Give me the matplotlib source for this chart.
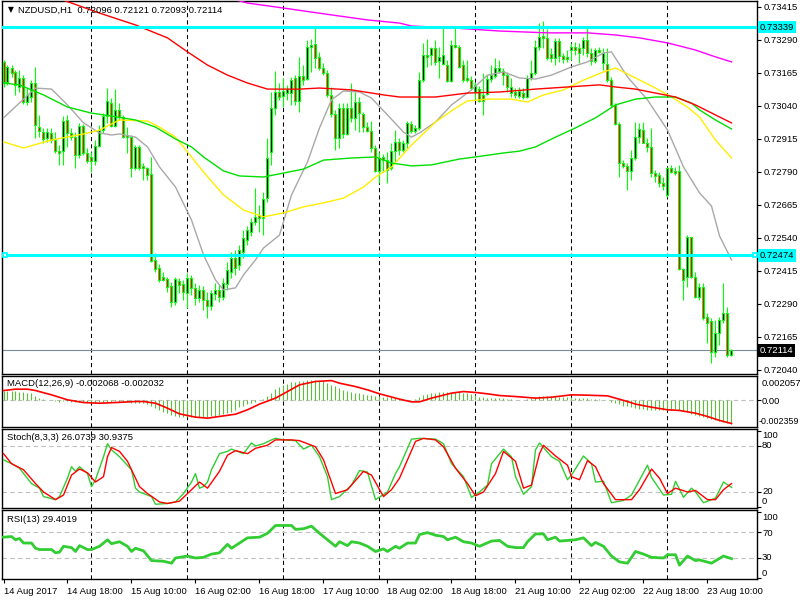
import numpy as np
import matplotlib
matplotlib.use('Agg')
import matplotlib.pyplot as plt
from matplotlib.transforms import blended_transform_factory as blend

plt.rcParams['font.family'] = ['Liberation Sans', 'DejaVu Sans']
FS = 6.8

# ---------------- data ----------------
symbol = 'NZDUSD,H1'
last_ohlc = [0.72096, 0.72121, 0.72093, 0.72114]
first_bar = 2          # bar index 0 = 14 Aug 2017 00:00 (H1 bars, weekend skipped)

# prices in points (1e-5)
open_pts = [73207, 73131, 73184, 73169, 73112, 73146, 73055, 73074, 73127, 72960,
            72941, 72919, 72938, 72911, 72869, 72869, 72987, 72938, 72922, 72854,
            72964, 72862, 72847, 72832, 72888, 72949, 73002, 73051, 72964, 73025,
            72998, 72930, 72922, 72805, 72885, 72813, 72805, 72782, 72457, 72426,
            72392, 72385, 72358, 72298, 72377, 72366, 72332, 72388, 72351, 72313,
            72343, 72305, 72282, 72328, 72343, 72316, 72366, 72411, 72464, 72438,
            72487, 72532, 72563, 72601, 72627, 72616, 72691, 72866, 73032, 73093,
            73078, 73089, 73089, 73146, 73059, 73154, 73142, 73263, 73275, 73226,
            73184, 73165, 73082, 73010, 72919, 73032, 72934, 73032, 72995, 73055,
            73010, 72960, 72945, 72881, 72794, 72847, 72835, 72805, 72869, 72904,
            72873, 72900, 72972, 72945, 72957, 73138, 73233, 73233, 73260, 73210,
            73199, 73195, 73135, 73271, 73263, 73195, 73146, 73138, 73093, 73104,
            73082, 73085, 73142, 73154, 73172, 73172, 73157, 73089, 73093, 73078,
            73089, 73074, 73146, 73165, 73263, 73305, 73298, 73237, 73222, 73286,
            73229, 73226, 73252, 73263, 73260, 73260, 73290, 73241, 73210, 73252,
            73203, 73199, 73138, 73044, 72972, 72824, 72813, 72794, 72843, 72922,
            72949, 72900, 72885, 72786, 72779, 72748, 72703, 72805, 72794, 72794,
            72423, 72392, 72544, 72392, 72316, 72354, 72241, 72225, 72108, 72180,
            72229, 72256, 72096]
high_pts = [73214, 73195, 73195, 73176, 73176, 73157, 73108, 73138, 73188, 73006,
            72957, 72957, 72957, 72941, 72892, 73002, 73006, 72957, 72941, 72976,
            72972, 72881, 72866, 72911, 72968, 73013, 73108, 73070, 73104, 73051,
            73006, 72960, 72930, 72892, 72892, 72824, 72809, 72847, 72483, 72441,
            72411, 72392, 72373, 72392, 72388, 72381, 72407, 72400, 72369, 72362,
            72358, 72335, 72343, 72369, 72362, 72388, 72449, 72487, 72495, 72513,
            72570, 72585, 72616, 72729, 72665, 72714, 72919, 73093, 73172, 73127,
            73146, 73120, 73150, 73157, 73226, 73195, 73290, 73294, 73339, 73245,
            73203, 73176, 73112, 73025, 73051, 73051, 73051, 73127, 73093, 73074,
            73017, 72979, 72983, 72892, 72866, 72858, 72866, 72900, 72949, 72919,
            72911, 72983, 72983, 72968, 73169, 73279, 73294, 73263, 73290, 73263,
            73339, 73214, 73290, 73339, 73271, 73214, 73214, 73154, 73131, 73116,
            73165, 73157, 73195, 73222, 73214, 73184, 73169, 73146, 73108, 73112,
            73108, 73157, 73214, 73290, 73354, 73362, 73332, 73260, 73298, 73298,
            73241, 73252, 73279, 73282, 73279, 73301, 73339, 73260, 73260, 73263,
            73260, 73260, 73150, 73051, 72979, 72835, 72824, 72873, 72979, 72976,
            72979, 72919, 72957, 72798, 72790, 72771, 72809, 72817, 72809, 72817,
            72426, 72551, 72544, 72411, 72369, 72369, 72256, 72237, 72229, 72241,
            72369, 72279, 72121]
low_pts = [73112, 73120, 73150, 73082, 73093, 73048, 73044, 73055, 72919, 72922,
           72900, 72904, 72900, 72862, 72817, 72817, 72885, 72911, 72805, 72843,
           72854, 72824, 72790, 72817, 72885, 72938, 72976, 72960, 72960, 72987,
           72919, 72862, 72771, 72798, 72798, 72760, 72760, 72449, 72411, 72373,
           72377, 72335, 72279, 72286, 72332, 72305, 72275, 72324, 72286, 72298,
           72267, 72237, 72267, 72305, 72298, 72305, 72343, 72388, 72400, 72419,
           72464, 72513, 72548, 72589, 72563, 72551, 72676, 72817, 73006, 73063,
           73036, 73063, 73044, 73044, 73017, 73120, 73138, 73169, 73184, 73176,
           73157, 73074, 72998, 72873, 72881, 72919, 72930, 72979, 72949, 72941,
           72941, 72941, 72866, 72790, 72748, 72790, 72748, 72798, 72824, 72854,
           72866, 72881, 72938, 72938, 72949, 73131, 73188, 73195, 73195, 73146,
           73195, 73131, 73131, 73260, 73184, 73131, 73131, 73101, 73063, 73055,
           73006, 73082, 73131, 73146, 73165, 73120, 73093, 73074, 73070, 73070,
           73066, 73070, 73138, 73157, 73252, 73260, 73214, 73207, 73195, 73207,
           73203, 73207, 73214, 73233, 73203, 73233, 73226, 73195, 73203, 73241,
           73176, 73131, 73036, 72968, 72771, 72805, 72722, 72760, 72835, 72900,
           72900, 72866, 72771, 72752, 72733, 72722, 72695, 72786, 72779, 72419,
           72305, 72354, 72388, 72313, 72305, 72229, 72142, 72066, 72089, 72135,
           72218, 72089, 72093]
close_pts = [73131, 73188, 73165, 73120, 73146, 73055, 73082, 73127, 72968, 72945,
             72915, 72941, 72911, 72869, 72862, 72983, 72938, 72922, 72854, 72964,
             72862, 72832, 72832, 72888, 72949, 73002, 73059, 72964, 73025, 72998,
             72922, 72922, 72805, 72885, 72805, 72805, 72779, 72453, 72423, 72381,
             72381, 72354, 72298, 72385, 72362, 72335, 72388, 72351, 72313, 72343,
             72305, 72282, 72332, 72343, 72316, 72369, 72419, 72464, 72426, 72495,
             72540, 72570, 72601, 72620, 72616, 72688, 72843, 73032, 73093, 73074,
             73097, 73104, 73138, 73059, 73154, 73138, 73263, 73271, 73222, 73184,
             73165, 73082, 73010, 72919, 73032, 72934, 73032, 72995, 73055, 73013,
             72960, 72945, 72881, 72794, 72843, 72835, 72798, 72869, 72904, 72873,
             72900, 72976, 72945, 72957, 73138, 73233, 73226, 73260, 73207, 73226,
             73233, 73135, 73271, 73263, 73188, 73138, 73138, 73108, 73120, 73059,
             73059, 73142, 73157, 73184, 73184, 73157, 73112, 73112, 73082, 73097,
             73074, 73146, 73165, 73263, 73301, 73298, 73222, 73222, 73286, 73229,
             73218, 73218, 73263, 73252, 73241, 73290, 73241, 73210, 73252, 73245,
             73241, 73138, 73044, 72972, 72824, 72813, 72794, 72843, 72922, 72953,
             72900, 72885, 72786, 72775, 72748, 72737, 72805, 72790, 72786, 72423,
             72381, 72544, 72392, 72316, 72354, 72237, 72218, 72108, 72180, 72229,
             72256, 72097, 72114]

# moving averages (bar index, price in points)
gray_idx = [2, 10, 14, 18, 22, 26, 29, 31, 35, 38, 41, 45, 49, 52, 55, 57, 60, 62, 65, 67,
            71, 74, 78, 81, 84, 87, 91, 94, 98, 102, 104, 106, 110, 114, 119, 123, 127, 131, 135, 139,
            144, 148, 152, 154, 158, 163, 168, 172, 176, 179, 181, 184]
gray_pts = [72995, 73108, 73104, 73044, 72976, 72938, 72930, 72934, 72922, 72885,
            72809, 72733, 72608, 72476, 72381, 72343, 72351, 72400, 72457, 72502,
            72551, 72703, 72828, 72957, 73063, 73097, 73093, 73070, 73006, 72941,
            72922, 72938, 72979, 73044, 73101, 73157, 73169, 73146, 73142, 73157,
            73188, 73207, 73241, 73245, 73150, 73063, 72949, 72809, 72711, 72661,
            72548, 72457]
yellow_idx = [2, 7, 14, 22, 26, 31, 38, 41, 45, 49, 52, 57, 62, 67, 72, 77, 82, 87, 92, 95,
              99, 104, 110, 115, 118, 123, 129, 133, 137, 142, 147, 152, 155, 160, 165, 169, 173, 176, 180, 184]
yellow_pts = [72904, 72881, 72911, 72934, 72949, 72987, 72983, 72960, 72922, 72847,
              72790, 72703, 72646, 72620, 72635, 72658, 72673, 72691, 72733, 72771,
              72809, 72892, 72979, 73032, 73059, 73066, 73066, 73055, 73082, 73101,
              73138, 73169, 73184, 73146, 73108, 73074, 73036, 72998, 72911, 72843]
green_idx = [2, 6, 12, 18, 24, 29, 35, 40, 45, 49, 52, 57, 61, 67, 72, 77, 82, 89, 95, 99,
             104, 109, 116, 120, 127, 131, 135, 140, 145, 150, 155, 160, 165, 170, 174, 176, 180, 184]
green_pts = [73127, 73120, 73082, 73036, 73013, 73002, 72987, 72960, 72915, 72885,
             72847, 72794, 72775, 72771, 72786, 72801, 72835, 72843, 72847, 72824,
             72813, 72817, 72839, 72847, 72862, 72869, 72885, 72922, 72957, 72995,
             73044, 73066, 73074, 73074, 73051, 73025, 72987, 72953]
red_idx = [2, 11, 19, 26, 35, 43, 48, 53, 58, 63, 68, 76, 81, 89, 97, 101, 110, 118, 126, 135,
           143, 151, 155, 160, 165, 170, 175, 180, 184]
red_pts = [73525, 73472, 73430, 73392, 73347, 73298, 73245, 73195, 73157, 73127,
           73104, 73104, 73108, 73101, 73082, 73074, 73074, 73089, 73093, 73104,
           73112, 73120, 73112, 73104, 73089, 73074, 73044, 73006, 72976]
magenta_idx = [46, 63, 72, 84, 93, 101, 104, 115, 126, 138, 148, 155, 161, 168, 175, 180, 184]
magenta_pts = [73498, 73430, 73411, 73385, 73366, 73354, 73343, 73335, 73324, 73317,
               73317, 73309, 73298, 73279, 73252, 73226, 73207]

level_hi = 0.73339
level_lo = 0.72474
price_ticks = [0.73415, 0.73290, 0.73165, 0.73040, 0.72915, 0.72790,
               0.72665, 0.72540, 0.72415, 0.72290, 0.72165, 0.72040]

# MACD main (histogram, 1e-5 units, one per bar) and signal
macd_hist = [88, 86, 84, 80, 76, 72, 68, 62, 40, 25,
             12, 6, 0, -6, -10, -8, -6, -9, -14, -12,
             -15, -18, -20, -19, -17, -14, -10, -10, -8, -9,
             -12, -15, -20, -22, -24, -26, -30, -50, -68, -85,
             -98, -112, -128, -135, -142, -147, -148, -147, -146, -145,
             -143, -142, -140, -136, -130, -122, -114, -100, -80, -60,
             -45, -30, -20, -10, 0, 12, 40, 70, 100, 120,
             135, 150, 160, 165, 168, 172, 178, 182, 181, 176,
             168, 155, 140, 125, 110, 95, 82, 76, 70, 65,
             60, 52, 48, 42, 38, 35, 32, 28, 22, 15,
             8, 6, 6, 12, 30, 48, 58, 65, 70, 72,
             74, 75, 76, 76, 74, 70, 64, 58, 45, 35,
             28, 25, 22, 21, 20, 20, 16, 12, 8, 6,
             8, 15, 22, 30, 36, 38, 40, 40, 38, 35,
             33, 30, 27, 25, 22, 22, 20, 16, 12, 10,
             5, 0, -12, -24, -35, -45, -52, -60, -66, -72,
             -77, -82, -86, -88, -87, -84, -82, -80, -77, -82,
             -95, -105, -115, -125, -135, -145, -155, -165, -176, -185,
             -194, -200, -207]
sig_idx = [2, 5, 8, 10, 14, 18, 22, 26, 30, 35, 37, 40, 43, 46, 50, 53, 56, 60, 63, 66,
           70, 73, 76, 80, 84, 86, 90, 93, 96, 101, 104, 106, 109, 114, 117, 120, 123, 126, 130, 135,
           139, 144, 148, 153, 155, 158, 160, 164, 168, 171, 175, 178, 181, 184]
sig_vals = [88, 100, 100, 88, 50, 6, -18, -24, -18, -9, -9, -24, -68, -118, -147, -156, -141, -121, -82, -32,
            21, 79, 138, 168, 176, 153, 123, 94, 59, 12, -12, -12, 21, 65, 79, 71, 59, 44, 35, 21,
            29, 50, 47, 41, 21, -9, -32, -59, -82, -88, -112, -141, -176, -203]
macd_last = [-0.002068, -0.002032]
macd_axis_labels = ['0.002057', '0.00', '-0.002359']

# Stochastic %K / %D
k_idx = [2, 4, 6, 9, 11, 12, 15, 16, 18, 19, 20, 21, 23, 24, 25, 27, 28, 29, 31, 34,
         35, 36, 39, 40, 43, 45, 47, 49, 50, 51, 52, 53, 54, 56, 58, 59, 62, 64, 65, 67,
         69, 70, 72, 75, 77, 79, 81, 83, 84, 86, 89, 91, 93, 95, 98, 100, 101, 104, 106, 110,
         112, 114, 117, 119, 121, 123, 124, 127, 129, 130, 132, 134, 135, 136, 139, 141, 143, 144, 147, 149,
         150, 152, 154, 157, 159, 163, 164, 167, 169, 170, 172, 174, 175, 177, 180, 182, 184]
k_vals = [62, 57, 51, 31, 25, 14, 10, 14, 38, 53, 47, 53, 44, 27, 36, 66, 83, 75, 66, 49,
          25, 20, 14, 4, 5, 7, 18, 33, 44, 25, 27, 33, 49, 70, 73, 76, 70, 84, 80, 83,
          88, 90, 88, 87, 76, 81, 66, 40, 10, 14, 29, 48, 46, 10, 20, 44, 53, 89, 90, 89,
          83, 57, 40, 13, 20, 29, 57, 76, 66, 40, 17, 27, 75, 84, 66, 60, 36, 42, 67, 57,
          33, 34, 6, 9, 16, 55, 39, 16, 17, 34, 13, 25, 20, 6, 12, 33, 26]
d_idx = [2, 4, 7, 10, 12, 15, 17, 19, 21, 23, 25, 27, 28, 29, 31, 33, 36, 38, 41, 43,
         46, 48, 51, 53, 56, 58, 60, 63, 65, 68, 70, 74, 76, 79, 80, 82, 85, 88, 92, 94,
         97, 99, 101, 105, 107, 110, 112, 115, 118, 120, 122, 125, 127, 130, 132, 134, 136, 137, 140, 143,
         144, 146, 148, 150, 152, 155, 159, 161, 164, 166, 168, 170, 173, 175, 178, 180, 182, 184]
d_vals = [70, 57, 49, 31, 20, 10, 16, 42, 50, 45, 33, 40, 66, 78, 73, 60, 27, 18, 7, 5,
          8, 18, 33, 25, 47, 68, 74, 70, 77, 81, 88, 88, 87, 81, 79, 62, 18, 23, 47, 42,
          14, 23, 38, 86, 90, 88, 79, 51, 31, 15, 20, 44, 73, 60, 25, 29, 70, 81, 67, 55,
          40, 36, 61, 53, 31, 10, 10, 23, 50, 38, 18, 25, 20, 22, 10, 10, 23, 31]
stoch_last = ['26.0739', '30.9375']

# RSI(13)
rsi_idx = [2, 4, 5, 6, 7, 9, 10, 11, 14, 15, 16, 17, 19, 20, 21, 23, 24, 26, 28, 29,
           31, 33, 34, 35, 37, 39, 42, 44, 45, 48, 50, 52, 54, 56, 58, 59, 61, 63, 66, 68,
           70, 74, 75, 77, 79, 81, 83, 85, 86, 88, 89, 91, 93, 95, 97, 98, 100, 101, 103, 105,
           106, 108, 110, 112, 113, 115, 117, 119, 121, 124, 126, 128, 130, 132, 133, 135, 137, 138, 140, 141,
           143, 145, 147, 149, 150, 152, 154, 156, 158, 160, 162, 164, 167, 168, 170, 171, 173, 175, 176, 179,
           182, 184]
rsi_vals = [62, 63, 58, 60, 53, 53, 45, 43, 43, 38, 39, 48, 46, 40, 49, 43, 43, 48, 58, 52,
            55, 48, 40, 45, 41, 26, 25, 22, 30, 33, 30, 31, 36, 38, 51, 45, 53, 61, 62, 68,
            80, 80, 74, 75, 79, 68, 58, 48, 55, 49, 55, 53, 48, 40, 44, 40, 48, 45, 53, 53,
            66, 69, 65, 63, 58, 62, 55, 53, 48, 56, 57, 48, 46, 46, 55, 67, 67, 58, 62, 56,
            57, 58, 61, 49, 54, 48, 33, 24, 22, 40, 36, 31, 30, 35, 35, 19, 33, 26, 27, 22,
            33, 29]
rsi_last = '29.4019'

day_start_idx = [24, 48, 72, 96, 120, 144, 168]
time_label_idx = [2, 18, 34, 50, 66, 82, 98, 114, 130, 146, 162, 178]
time_labels = ['14 Aug 2017', '14 Aug 18:00', '15 Aug 10:00', '16 Aug 02:00', '16 Aug 18:00',
               '17 Aug 10:00', '18 Aug 02:00', '18 Aug 18:00', '21 Aug 10:00', '22 Aug 02:00',
               '22 Aug 18:00', '23 Aug 10:00']

# ---------------- figure ----------------
W, H = 800, 600
fig = plt.figure(figsize=(8, 6), dpi=100)
fig.patch.set_facecolor('white')

def add_px(x0, y0, x1, y1):
    return fig.add_axes([x0 / W, 1 - y1 / H, (x1 - x0) / W, (y1 - y0) / H])

def ftext(x, y, s, **kw):
    kw.setdefault('fontsize', FS)
    kw.setdefault('va', 'center')
    fig.text(x / W, 1 - y / H, s, **kw)

ax = add_px(2, 1, 757, 374)
axm = add_px(2, 376, 757, 427)
axs = add_px(2, 429, 757, 508)
axr = add_px(2, 510, 757, 579)
XL = (1.625, 190.375)
GRIDLS = (0, (4, 3))
for a in (ax, axm, axs, axr):
    a.set_xlim(*XL)
    a.set_facecolor('white')
    for sp in a.spines.values():
        sp.set_color('black')
        sp.set_linewidth(1.0)
    for d in day_start_idx:
        a.axvline(d, color='black', lw=0.75, ls=GRIDLS, zorder=1)
    a.set_xticks([])
    a.yaxis.tick_right()
    a.tick_params(axis='y', labelsize=FS, length=3, width=0.8, pad=2,
                  direction='out', colors='black')

# ---- main price panel ----
o = np.array(open_pts) / 1e5
h = np.array(high_pts) / 1e5
l = np.array(low_pts) / 1e5
c = np.array(close_pts) / 1e5
idx = np.arange(first_bar, first_bar + len(o))

ax.vlines(idx, l, h, color='#00ff00', lw=0.8, zorder=3)
up = c >= o
for mask, fc in ((up, 'black'), (~up, '#ff0000')):
    ax.bar(idx[mask], np.abs(c - o)[mask], bottom=np.minimum(o, c)[mask], width=0.5,
           color=fc, edgecolor='#00ff00', linewidth=0.75, zorder=4)

for mi, mv, col in ((gray_idx, gray_pts, '#a8a8a8'), (yellow_idx, yellow_pts, '#ffee00'),
                    (green_idx, green_pts, '#00e000'), (red_idx, red_pts, '#ff0000'),
                    (magenta_idx, magenta_pts, '#ff00ff')):
    ax.plot(mi, np.array(mv) / 1e5, color=col, lw=1.0, zorder=5)

ax.axhline(level_hi, color='#00ffff', lw=2.2, zorder=6)
ax.axhline(level_lo, color='#00ffff', lw=2.2, zorder=6)
ax.axhline(last_ohlc[3], color='#7a8a9a', lw=0.8, zorder=2)
ax.plot([XL[0] + 0.85, XL[1] - 0.6], [level_lo, level_lo], ls='none', marker='s', ms=3.5,
        mfc='white', mec='#00ffff', mew=1.3, zorder=7, clip_on=False)

ax.set_ylim(0.720248, 0.734377)
ax.set_yticks(price_ticks)
ax.set_yticklabels([f'{p:.5f}' for p in price_ticks])

tr = blend(ax.transAxes, ax.transData)
for lv, fc, tc in ((level_hi, '#00ffff', 'black'), (level_lo, '#00ffff', 'black'),
                   (last_ohlc[3], 'black', 'white')):
    ax.text(1.004, lv, f'{lv:.5f}', transform=tr, fontsize=FS, va='center', ha='left',
            color=tc, zorder=10, clip_on=False,
            bbox=dict(boxstyle='square,pad=0.18', fc=fc, ec='none'))

ftext(8, 10, '\u25bc', fontsize=5.5, family=['DejaVu Sans'])
ftext(18, 10, symbol + '  ' + ' '.join(f'{v:.5f}' for v in last_ohlc))

# ---- MACD ----
axm.vlines(idx, 0, np.array(macd_hist) / 1e5, color='#5cbf3c', lw=0.8, zorder=3)
axm.plot(sig_idx, np.array(sig_vals) / 1e5, color='#ff0000', lw=1.2, zorder=4)
axm.axhline(0, color='#c0c0c0', lw=0.8, ls=GRIDLS, zorder=2)
axm.set_ylim(-0.00234, 0.002163)
axm.set_yticks([0])
axm.set_yticklabels([''])
ftext(7, 384, 'MACD(12,26,9) %.6f %.6f' % (macd_last[0], macd_last[1]))
ftext(762, 383, macd_axis_labels[0])
ftext(762, 401, macd_axis_labels[1])
ftext(759, 422, macd_axis_labels[2], fontsize=6.4)

# ---- Stochastic ----
axs.plot(k_idx, k_vals, color='#32cd32', lw=1.0, zorder=3)
axs.plot(d_idx, d_vals, color='#ff0000', lw=1.0, zorder=4)
for lv in (80, 20):
    axs.axhline(lv, color='#c0c0c0', lw=0.8, ls=GRIDLS, zorder=2)
axs.set_ylim(-0.9, 102.2)
axs.set_yticks([100, 80, 20, 0])
axs.set_yticklabels([''] * 4)
ftext(7, 437, 'Stoch(8,3,3) %s %s' % tuple(stoch_last))
for y, s in ((436, '100'), (446, '80'), (492, '20'), (502, '0')):
    ftext(762, y, s)

# ---- RSI ----
axr.plot(rsi_idx, rsi_vals, color='#32cd32', lw=2.0, zorder=3)
for lv in (70, 30):
    axr.axhline(lv, color='#c0c0c0', lw=0.8, ls=GRIDLS, zorder=2)
axr.set_ylim(-2.3, 103.8)
axr.set_yticks([100, 70, 30, 0])
axr.set_yticklabels([''] * 4)
ftext(7, 520, 'RSI(13) ' + rsi_last)
for y, s in ((517, '100'), (533, '70'), (558, '30'), (573, '0')):
    ftext(762, y, s)

axr.set_xticks(time_label_idx)
axr.set_xticklabels(time_labels, ha='left', fontsize=FS)
axr.tick_params(axis='x', length=3, width=0.8, pad=3, direction='out')

fig.savefig('out.png', dpi=100, facecolor='white')
